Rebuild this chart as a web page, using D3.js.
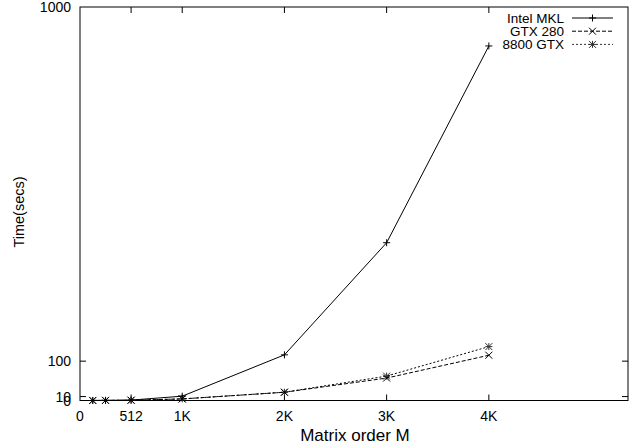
<!DOCTYPE html>
<html>
<head>
<meta charset="utf-8">
<script src="https://cdn.jsdelivr.net/npm/d3@7"></script>
<style>
  body { margin: 0; background: #fff; }
  svg { font-family: "Liberation Sans", Arial, sans-serif; }
  .line { fill: none; stroke: #000; stroke-width: 1; }
</style>
</head>
<body>
<svg width="636" height="448"></svg>
<script>
// matrix orders (x) and timings in seconds
const sizes = [128, 256, 512, 1024, 2048, 3072, 4096];
const mklTimes = [0.1, 0.3, 1, 11, 116, 401, 901];
const gtx280Times = [0.1, 0.3, 0.6, 4, 21, 57, 115];
const gtx8800Times = [0.1, 0.3, 0.6, 4, 21, 62, 137];

const xTickValues = [0, 512, 1024, 2048, 3072, 4096];
const xTickLabels = ['0', '512', '1K', '2K', '3K', '4K'];
const yTickValues = [0, 10, 100, 1000];

const series = [
    { name: 'Intel MKL', values: mklTimes, dash: null, marker: 'plus', color: '#000' },
    { name: 'GTX 280', values: gtx280Times, dash: '4,2', marker: 'cross', color: '#000' },
    { name: '8800 GTX', values: gtx8800Times, dash: '2,2', marker: 'star', color: '#333' }
];

const plotLeft = 80, plotRight = 628, plotTop = 7, plotBottom = 400.5;
const svg = d3.select('svg');

const x = d3.scaleLinear().domain([0, 5490]).range([plotLeft, plotRight]);
const y = d3.scaleLinear().domain([0, 1000]).range([plotBottom, plotTop]);

// frame
svg.append('rect')
    .attr('x', plotLeft).attr('y', plotTop)
    .attr('width', plotRight - plotLeft).attr('height', plotBottom - plotTop)
    .attr('fill', 'none').attr('stroke', '#000');

const tickLen = 6;
// ticks on all four sides, pointing inwards
xTickValues.forEach(v => {
    if (v === 0) return;
    svg.append('line').attr('x1', x(v)).attr('x2', x(v))
        .attr('y1', plotBottom).attr('y2', plotBottom - tickLen).attr('stroke', '#000');
    svg.append('line').attr('x1', x(v)).attr('x2', x(v))
        .attr('y1', plotTop).attr('y2', plotTop + tickLen).attr('stroke', '#000');
});
yTickValues.forEach(v => {
    if (v === 0 || v === 1000) return;
    svg.append('line').attr('x1', plotLeft).attr('x2', plotLeft + tickLen)
        .attr('y1', y(v)).attr('y2', y(v)).attr('stroke', '#000');
    svg.append('line').attr('x1', plotRight).attr('x2', plotRight - tickLen)
        .attr('y1', y(v)).attr('y2', y(v)).attr('stroke', '#000');
});

// tick labels
svg.selectAll('text.xt')
    .data(xTickValues)
    .enter()
    .append('text')
    .attr('class', 'xt')
    .attr('x', d => x(d))
    .attr('y', plotBottom + 20)
    .attr('text-anchor', 'middle')
    .style('font-size', '14px')
    .text((d, i) => xTickLabels[i]);

svg.selectAll('text.yt')
    .data(yTickValues)
    .enter()
    .append('text')
    .attr('class', 'yt')
    .attr('x', plotLeft - 9)
    .attr('y', d => y(d) + 5)
    .attr('text-anchor', 'end')
    .style('font-size', '14px')
    .text(d => d);

// axis titles
svg.append('text')
    .attr('x', 355).attr('y', 441)
    .attr('text-anchor', 'middle')
    .style('font-size', '17px')
    .text('Matrix order M');

svg.append('text')
    .attr('transform', 'translate(24,212) rotate(-90)')
    .attr('text-anchor', 'middle')
    .style('font-size', '14.5px')
    .text('Time(secs)');

// markers
const ms = 3.5;
function marker(g, kind, cx, cy, color) {
    const p = d3.path();
    if (kind === 'plus' || kind === 'star') {
        p.moveTo(cx - ms, cy); p.lineTo(cx + ms, cy);
        p.moveTo(cx, cy - ms); p.lineTo(cx, cy + ms);
    }
    if (kind === 'cross' || kind === 'star') {
        p.moveTo(cx - ms, cy - ms); p.lineTo(cx + ms, cy + ms);
        p.moveTo(cx - ms, cy + ms); p.lineTo(cx + ms, cy - ms);
    }
    g.append('path').attr('d', p.toString()).attr('stroke', color).attr('fill', 'none');
}

const lineFun = d3.line()
    .x((d, i) => x(sizes[i]))
    .y(d => y(d));

const plot = svg.append('g');
series.slice().reverse().forEach(s => {
    plot.append('path')
        .attr('class', 'line')
        .attr('d', lineFun(s.values))
        .attr('stroke', s.color)
        .attr('stroke-dasharray', s.dash);
    s.values.forEach((v, i) => marker(plot, s.marker, x(sizes[i]), y(v), s.color));
});

// legend
series.forEach((s, i) => {
    const ly = 18 + i * 13.2;
    svg.append('text')
        .attr('x', 564).attr('y', ly + 4.5)
        .attr('text-anchor', 'end')
        .style('font-size', '13.5px')
        .text(s.name);
    svg.append('line')
        .attr('x1', 572).attr('x2', 613)
        .attr('y1', ly).attr('y2', ly)
        .attr('stroke', s.color)
        .attr('stroke-dasharray', s.dash);
    marker(svg, s.marker, 592.5, ly, s.color);
});
</script>
</body>
</html>
